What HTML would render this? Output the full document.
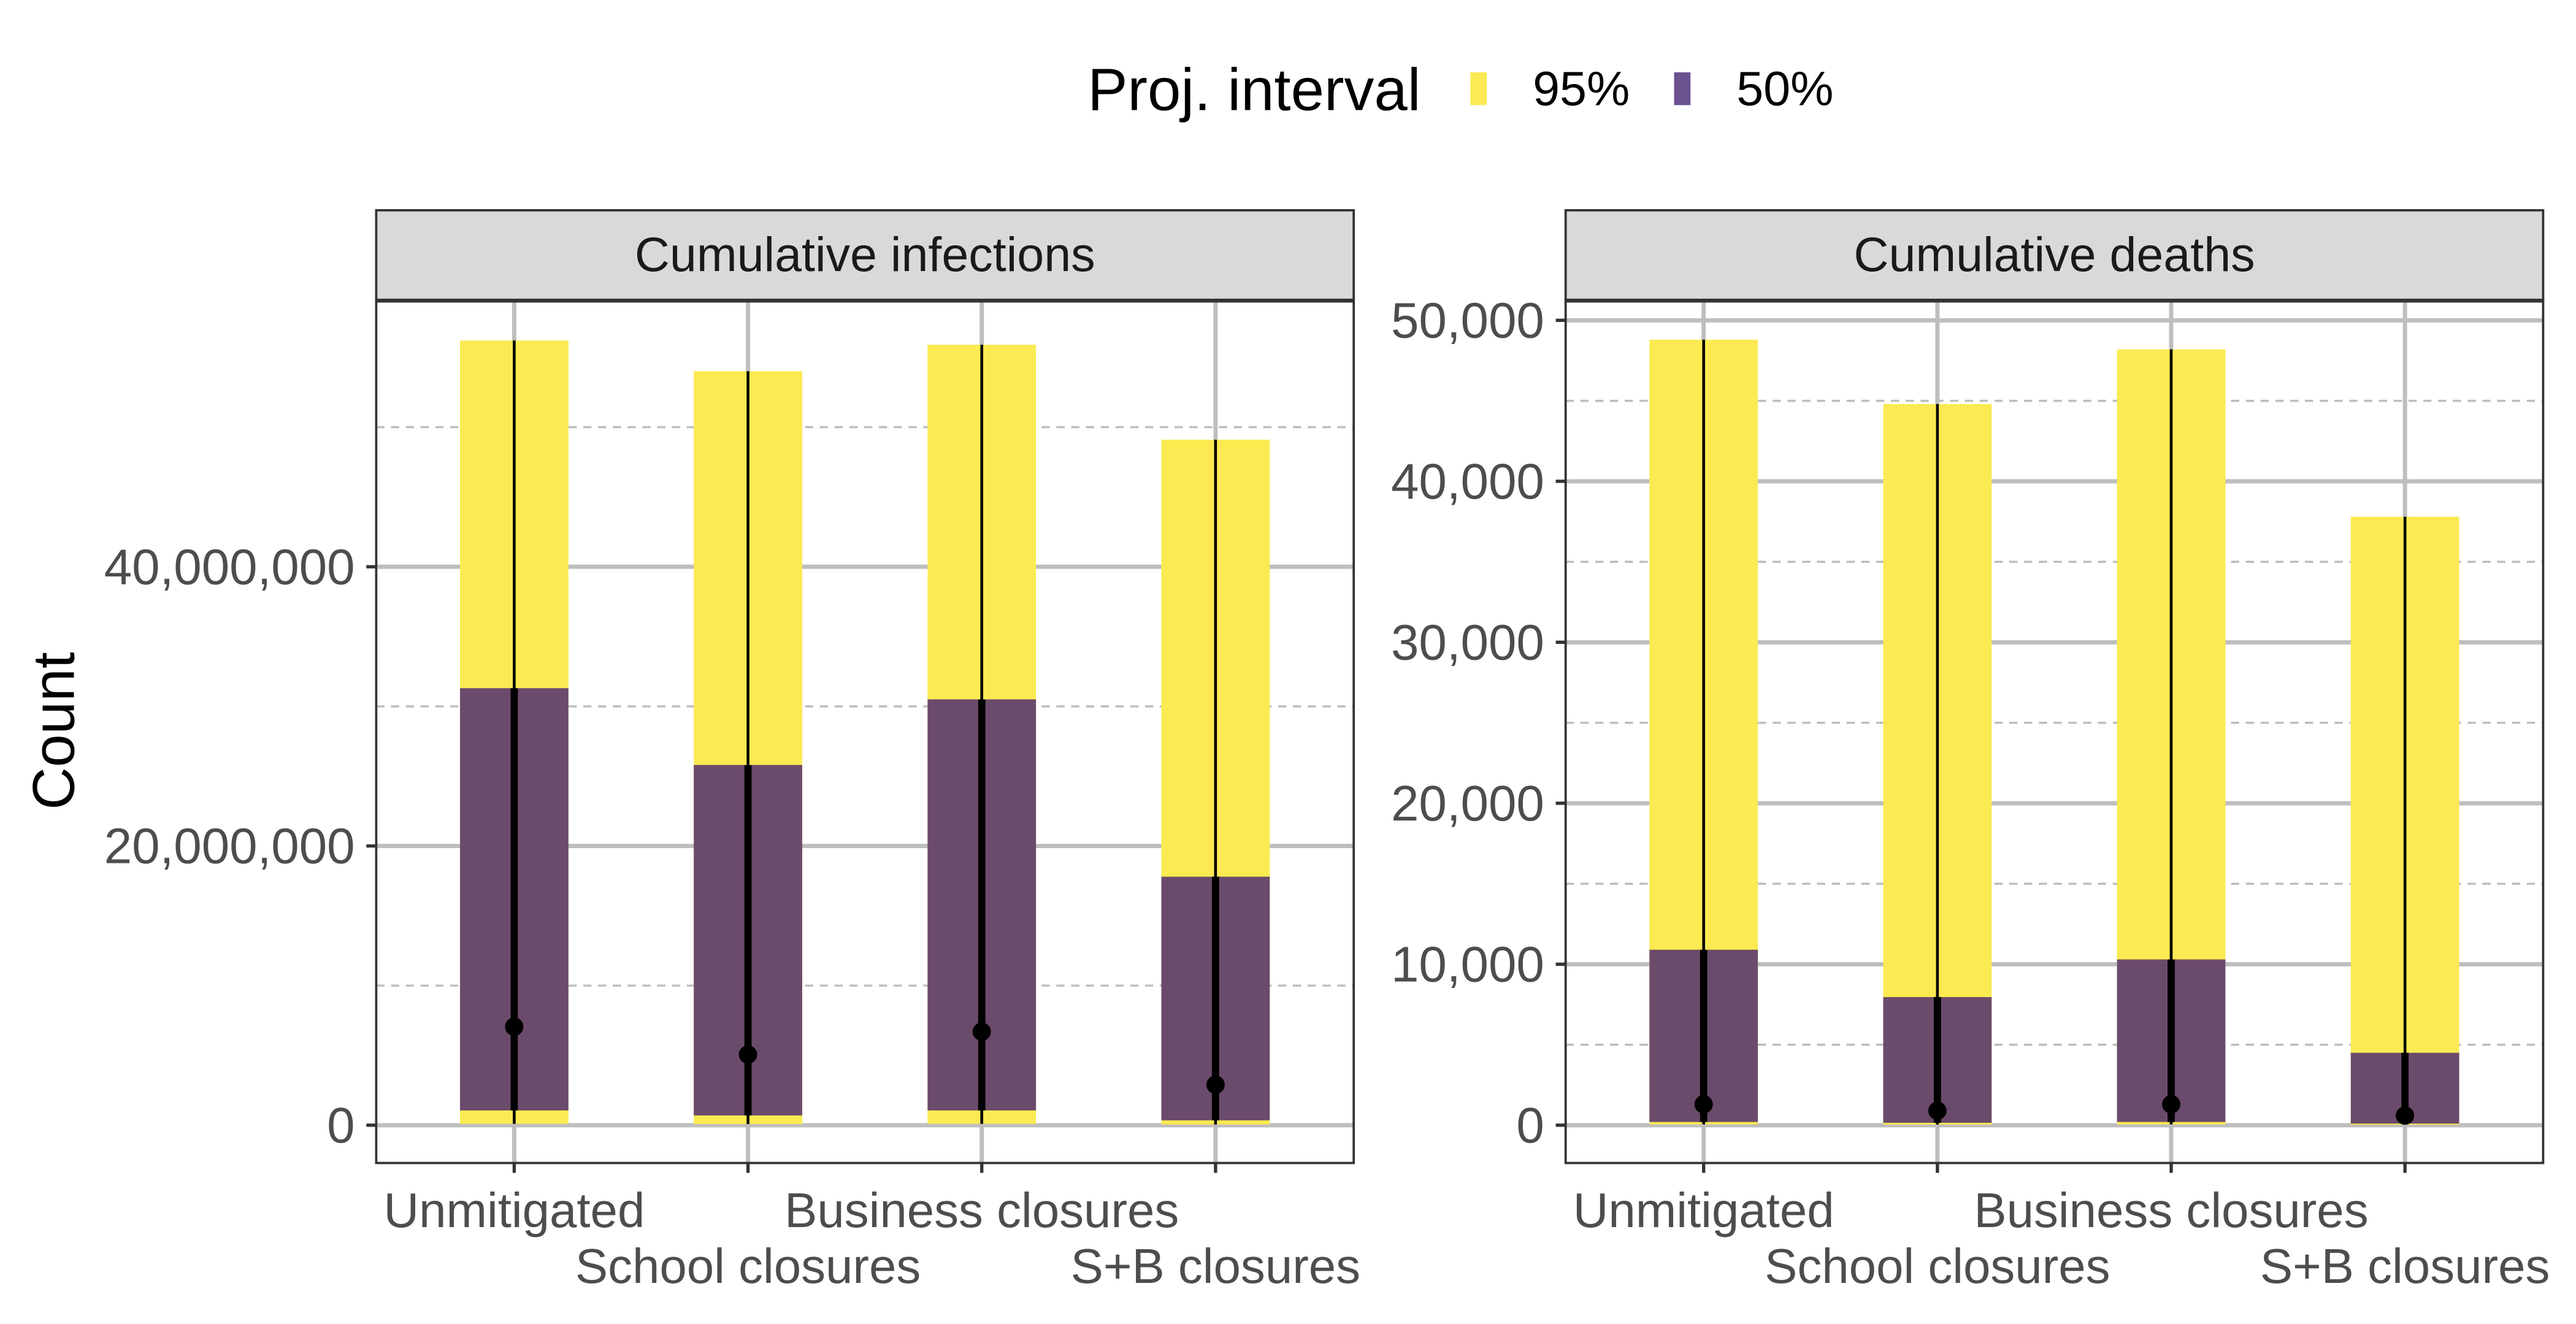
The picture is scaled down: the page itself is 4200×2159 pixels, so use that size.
<!DOCTYPE html>
<html><head><meta charset="utf-8"><style>
html,body{margin:0;padding:0;background:#fff;}
svg{display:block;font-family:"Liberation Sans",sans-serif;}
</style></head><body>
<svg id="chart" width="4200" height="2159" viewBox="0 0 1568 806" xmlns="http://www.w3.org/2000/svg">
<rect x="0" y="0" width="1568" height="806" fill="#fff"/>
<g>
<text x="662" y="67" font-size="36.5" fill="#000">Proj. interval</text>
<rect x="895" y="44" width="10" height="20" fill="#fbea52"/>
<text x="933" y="64" font-size="29.5" fill="#000">95%</text>
<rect x="1019" y="44" width="10" height="20" fill="#6b5190"/>
<text x="1057" y="64" font-size="29.5" fill="#000">50%</text>
</g>
<text transform="translate(45,445) rotate(-90)" text-anchor="middle" font-size="36" fill="#000">Count</text>
<g id="panels"></g>
</svg>
<script>
const categories = ["Unmitigated","School closures","Business closures","S+B closures"];
// Cumulative infections
const infLo95 = [100000, 80000, 100000, 50000];
const infLo50 = [1060000, 700000, 1060000, 350000];
const infMed = [7060000, 5060000, 6700000, 2900000];
const infHi50 = [31300000, 25800000, 30500000, 17800000];
const infHi95 = [56200000, 54000000, 55900000, 49100000];
const infMajorTicks = [0, 20000000, 40000000];
const infMinorTicks = [10000000, 30000000, 50000000];
const infTickLabels = ["0","20,000,000","40,000,000"];
// Cumulative deaths
const dLo95 = [50, 40, 50, 30];
const dLo50 = [200, 150, 200, 100];
const dMed = [1300, 900, 1300, 600];
const dHi50 = [10900, 7960, 10300, 4500];
const dHi95 = [48800, 44800, 48200, 37800];
const dMajorTicks = [0, 10000, 20000, 30000, 40000, 50000];
const dMinorTicks = [5000, 15000, 25000, 35000, 45000];
const dTickLabels = ["0","10,000","20,000","30,000","40,000","50,000"];

const NS = "http://www.w3.org/2000/svg";
const root = document.getElementById("panels");
function mk(tag, attrs, parent){const e=document.createElementNS(NS,tag);for(const k in attrs)e.setAttribute(k,attrs[k]);(parent||root).appendChild(e);return e;}

function panel(cfg){
  const g = mk("g",{});
  
  
  const L=cfg.x0, R=cfg.x1, T=183, B=708, zeroY=685;
  const y = v => zeroY - v*cfg.pxPer;
  const xc = i => L + 84 + i*142.3;
  cfg.minor.forEach(v=>{
    const l=mk("line",{x1:L,x2:R,y1:y(v),y2:y(v),stroke:"#bdbdbd","stroke-width":1.3,"stroke-dasharray":"5,4"},g);
    
    
  });
  cfg.major.forEach((v,i)=>{
    const l=mk("line",{x1:L,x2:R,y1:y(v),y2:y(v),stroke:"#bebebe","stroke-width":2.6},g);
    
    
    const t=mk("line",{x1:L-6,x2:L,y1:y(v),y2:y(v),stroke:"#333","stroke-width":2},g);
    
    
    const tx=mk("text",{x:L-13,y:y(v)+10.5,"text-anchor":"end","font-size":30.5,fill:"#4d4d4d"},g);
    tx.textContent=cfg.labels[i];
    
    
  });
  categories.forEach((c,i)=>{
    const l=mk("line",{x1:xc(i),x2:xc(i),y1:T,y2:B,stroke:"#bebebe","stroke-width":2.6},g);
    
    
  });
  categories.forEach((c,i)=>{
    const bw=66, bx=xc(i)-bw/2;
    const r95=mk("rect",{x:bx,y:y(cfg.hi95[i]),width:bw,height:y(cfg.lo95[i])-y(cfg.hi95[i]),fill:"#fbea52"},g);
    
    
    const r50=mk("rect",{x:bx,y:y(cfg.hi50[i]),width:bw,height:y(cfg.lo50[i])-y(cfg.hi50[i]),fill:"#6b4b6b"},g);
    
    
    const thin=mk("line",{x1:xc(i),x2:xc(i),y1:y(cfg.hi95[i]),y2:y(cfg.lo95[i]),stroke:"#000","stroke-width":1.7},g);
    
    
    const thick=mk("line",{x1:xc(i),x2:xc(i),y1:y(cfg.hi50[i]),y2:y(cfg.lo50[i]),stroke:"#000","stroke-width":4.4},g);
    
    
    const p=mk("circle",{cx:xc(i),cy:y(cfg.med[i]),r:5.6,fill:"#000"},g);
    
    
    const tk=mk("line",{x1:xc(i),x2:xc(i),y1:B,y2:B+6,stroke:"#333","stroke-width":2},g);
    
    
    const tx=mk("text",{x:xc(i),y:(i%2===0)?747:781,"text-anchor":"middle","font-size":29.8,fill:"#4d4d4d"},g);
    tx.textContent=c;
    
    
  });
  const border=mk("rect",{x:L,y:T,width:R-L,height:B-T,fill:"none",stroke:"#333","stroke-width":1.4},g);
  
  
  const strip=mk("rect",{x:L,y:128,width:R-L,height:55,fill:"#d9d9d9",stroke:"#333","stroke-width":1.4},g);
  
  
  const sl=mk("line",{x1:L,x2:R,y1:183,y2:183,stroke:"#333","stroke-width":2.4},g);
  
  
  const st=mk("text",{x:(L+R)/2,y:165,"text-anchor":"middle","font-size":29.5,fill:"#1a1a1a"},g);
  st.textContent=cfg.title;
  
  
}
panel({name:"infections-panel",title:"Cumulative infections",x0:229,x1:824,pxPer:170/20000000,
  lo95:infLo95,lo50:infLo50,med:infMed,hi50:infHi50,hi95:infHi95,major:infMajorTicks,minor:infMinorTicks,labels:infTickLabels});
panel({name:"deaths-panel",title:"Cumulative deaths",x0:953,x1:1548,pxPer:490/50000,
  lo95:dLo95,lo50:dLo50,med:dMed,hi50:dHi50,hi95:dHi95,major:dMajorTicks,minor:dMinorTicks,labels:dTickLabels});
</script>
</body></html>
